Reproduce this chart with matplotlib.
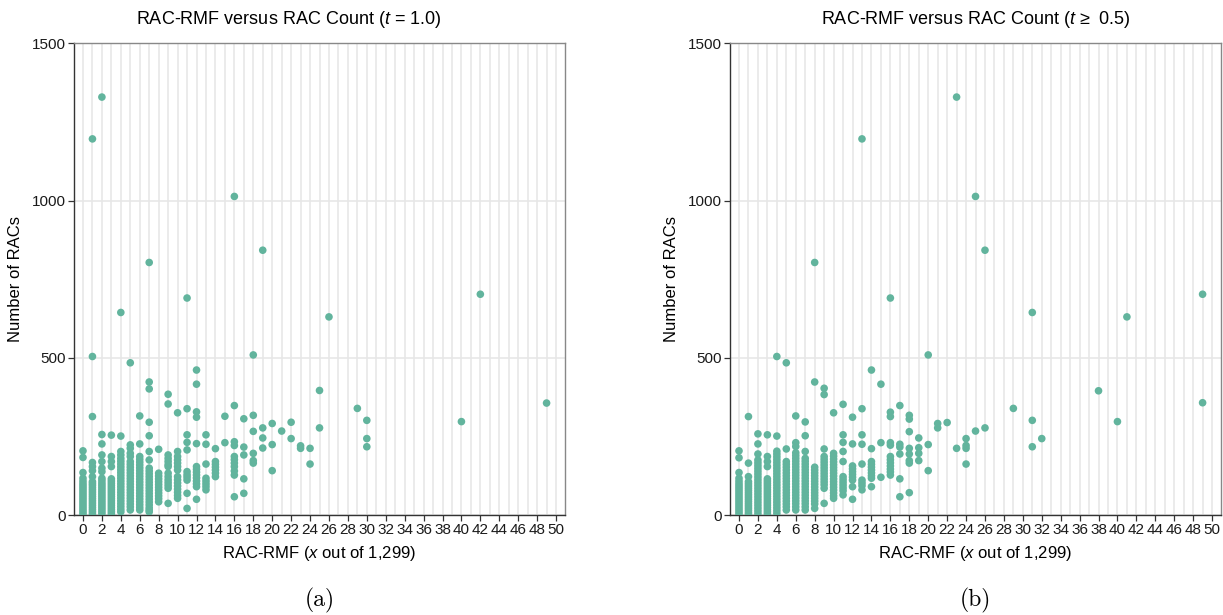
import matplotlib
matplotlib.use("Agg")
import matplotlib.pyplot as plt
import numpy as np

plt.rcParams['font.family'] = ['Liberation Sans', 'DejaVu Sans']
plt.rcParams['mathtext.fontset'] = 'custom'
plt.rcParams['mathtext.rm'] = 'Liberation Sans'
plt.rcParams['mathtext.it'] = 'Liberation Sans:italic'

# RAC-RMF value (x) and the RAC counts seen at that value, t = 1.0
rmf_a = [0, 1, 2, 3, 4, 5, 6, 7, 8, 9, 10, 11, 12, 13, 14, 15, 16, 17, 18,
         19, 20, 21, 22, 23, 24, 25, 26, 29, 30, 40, 42, 49]
racs_a = [
    [204, 183, 135, 117, 108, 100, 93, 86, 79, 72, 65, 58, 51, 44, 37, 30, 23, 16, 9, 2],
    [1196, 504, 313, 167, 154, 141, 122, 106, 100, 94, 87, 80, 73, 66, 59, 52, 45, 38, 31, 24, 17, 10, 3],
    [1329, 256, 226, 191, 170, 149, 138, 117, 110, 102, 95, 88, 81, 74, 67, 60, 53, 46, 39, 32, 25, 18, 11, 4],
    [254, 186, 170, 154, 115, 108, 101, 94, 87, 80, 73, 66, 59, 52, 45, 38, 31, 24, 17, 10, 3],
    [644, 251, 202, 191, 180, 171, 162, 153, 144, 135, 126, 117, 108, 99, 90, 81, 72, 63, 54, 45, 36, 27, 18, 10],
    [484, 223, 212, 196, 186, 170, 161, 152, 143, 134, 125, 116, 107, 98, 89, 80, 71, 62, 53, 44, 35, 26, 16],
    [315, 226, 186, 177, 168, 159, 150, 141, 132, 123, 114, 105, 96, 87, 78, 69, 60, 51, 42, 33, 24, 16],
    [803, 423, 401, 295, 252, 202, 175, 149, 140, 131, 122, 113, 104, 95, 86, 77, 68, 59, 50, 41, 32, 23, 16, 10],
    [209, 133, 124, 115, 106, 97, 88, 79, 70, 61, 52, 42],
    [384, 353, 191, 180, 170, 160, 154, 133, 122, 112, 103, 94, 85, 37],
    [325, 202, 186, 175, 165, 154, 143, 122, 112, 102, 92, 82, 72, 62, 53],
    [690, 338, 255, 231, 207, 138, 128, 120, 111, 69, 21],
    [461, 416, 328, 311, 227, 154, 145, 136, 127, 118, 108, 99, 90, 50],
    [255, 225, 162, 117, 108, 99, 90, 80],
    [211, 170, 161, 152, 143, 133, 122],
    [314, 230],
    [1013, 348, 233, 221, 186, 176, 165, 154, 140, 127, 58],
    [306, 216, 191, 115, 69],
    [509, 317, 266, 196, 173, 165],
    [842, 277, 245, 213],
    [291, 224, 141],
    [267],
    [295, 243],
    [220, 212],
    [212, 162],
    [396, 277],
    [630],
    [339],
    [301, 243, 217],
    [297],
    [702],
    [356],
]

# same data with t >= 0.5
rmf_b = [0, 1, 2, 3, 4, 5, 6, 7, 8, 9, 10, 11, 12, 13, 14, 15, 16, 17, 18,
         19, 20, 21, 22, 23, 24, 25, 26, 29, 31, 32, 38, 40, 41, 49]
racs_b = [
    [204, 182, 135, 117, 108, 100, 93, 86, 79, 72, 65, 58, 51, 44, 37, 30, 23, 16, 9, 2],
    [313, 165, 122, 106, 99, 92, 85, 78, 71, 64, 57, 50, 43, 36, 29, 22, 15, 8, 2],
    [258, 226, 194, 175, 166, 157, 148, 139, 130, 121, 112, 103, 94, 85, 76, 67, 58, 49, 40, 31, 22, 13, 4],
    [255, 186, 170, 154, 115, 108, 101, 94, 87, 80, 73, 66, 59, 52, 45, 38, 31, 24, 17, 10, 3],
    [504, 251, 203, 194, 185, 176, 167, 158, 149, 140, 131, 122, 113, 104, 95, 86, 77, 68, 59, 50, 41, 32, 23, 14, 5],
    [484, 210, 170, 161, 152, 143, 134, 125, 116, 107, 98, 89, 80, 71, 62, 53, 44, 35, 26, 16],
    [315, 230, 218, 198, 189, 180, 171, 162, 153, 144, 135, 126, 117, 108, 99, 90, 81, 72, 63, 54, 45, 36, 26, 16],
    [296, 252, 202, 180, 171, 162, 153, 144, 135, 126, 117, 108, 99, 90, 81, 72, 63, 54, 45, 36, 26, 16],
    [803, 423, 152, 143, 134, 125, 116, 107, 98, 89, 80, 71, 62, 53, 44, 35, 21],
    [403, 383, 210, 186, 177, 168, 159, 150, 141, 132, 123, 114, 105, 96, 85, 37],
    [325, 196, 187, 178, 169, 160, 151, 142, 133, 124, 115, 106, 97, 88, 79, 70, 61, 53],
    [352, 255, 231, 202, 170, 122, 113, 104, 95, 86, 77, 64],
    [311, 226, 156, 147, 138, 129, 120, 111, 90, 50],
    [1196, 338, 255, 225, 162, 111, 102, 93, 80],
    [461, 211, 170, 161, 152, 143, 134, 125, 117, 90],
    [416, 230, 120],
    [690, 327, 313, 230, 222, 186, 176, 166, 156, 146, 137, 127],
    [348, 225, 216, 194, 115, 58],
    [317, 305, 265, 212, 194, 173, 165, 71],
    [245, 214, 196, 173],
    [509, 224, 141],
    [291, 277],
    [294],
    [1329, 212],
    [243, 221, 212, 162],
    [1013, 267],
    [842, 277],
    [339],
    [644, 301, 217],
    [243],
    [395],
    [297],
    [630],
    [702, 357],
]

x_ticks = list(range(0, 51, 2))
y_ticks = [0, 500, 1000, 1500]

point_color = '#62b49d'
grid_color = '#e6e6e6'


def draw_panel(ax, rmf, racs):
    xs = []
    ys = []
    for x, vals in zip(rmf, racs):
        xs += [x] * len(vals)
        ys += vals
    ax.scatter(xs, ys, s=30, color=point_color, edgecolors='none', zorder=3)

    ax.set_xlim(-0.95, 50.95)
    ax.set_ylim(0, 1500)
    ax.set_xticks(x_ticks)
    ax.set_xticks(range(0, 51), minor=True)
    ax.set_yticks(y_ticks)
    ax.grid(True, which='both', axis='x', color=grid_color, lw=1.1, zorder=0)
    ax.grid(True, which='major', axis='y', color=grid_color, lw=1.1, zorder=0)
    ax.tick_params(which='major', length=4, width=0.9, color='#333333',
                   labelsize=11, labelcolor='#1a1a1a', pad=2)
    ax.tick_params(which='minor', length=0)
    for side in ['top', 'right']:
        ax.spines[side].set_color('#888888')
    for side in ['left', 'bottom']:
        ax.spines[side].set_color('#333333')
    for sp in ax.spines.values():
        sp.set_linewidth(1.0)
    ax.set_axisbelow(True)
    ax.set_xlabel('RAC-RMF ($x$ out of 1,299)', fontsize=12, labelpad=5)
    ax.set_ylabel('Number of RACs', fontsize=12, labelpad=6)


fig = plt.figure(figsize=(12.23, 6.15), dpi=100)
ax_a = fig.add_axes([0.0605, 0.1626, 0.4015, 0.767])
ax_b = fig.add_axes([0.5969, 0.1626, 0.4015, 0.767])
draw_panel(ax_a, rmf_a, racs_a)
draw_panel(ax_b, rmf_b, racs_b)

fig.text(0.236, 0.968, 'RAC-RMF versus RAC Count ($t$ = 1.0)',
         ha='center', va='center', fontsize=13)
fig.text(0.7976, 0.968, 'RAC-RMF versus RAC Count ($t$ ≥  0.5)',
         ha='center', va='center', fontsize=13)

fig.text(0.2612, 0.024, '(a)', ha='center', va='center',
         fontsize=17, family='cmr10')
fig.text(0.7976, 0.024, '(b)', ha='center', va='center',
         fontsize=17, family='cmr10')

fig.savefig('out.png', dpi=100)
